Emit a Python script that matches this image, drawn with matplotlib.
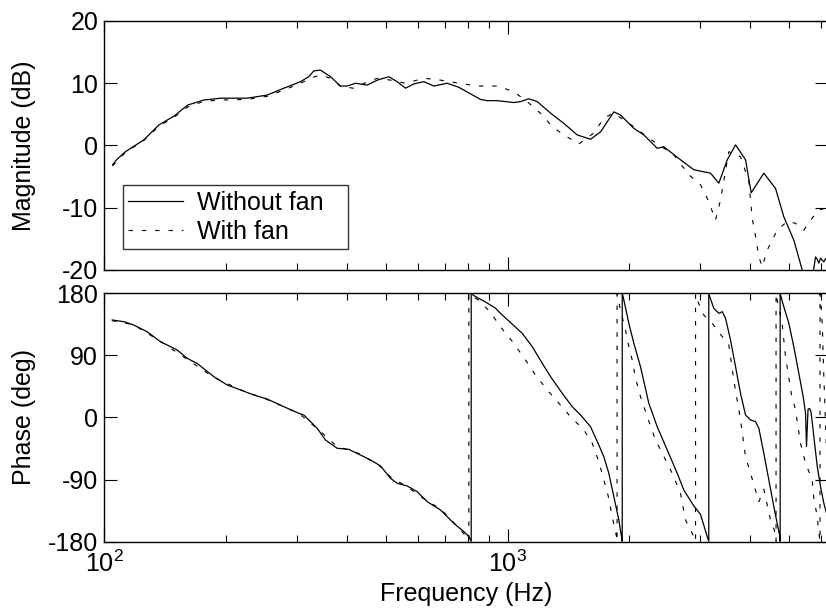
import numpy as np
import matplotlib.pyplot as plt
from matplotlib.ticker import NullFormatter, FixedLocator

plt.rcParams['font.family'] = ['Liberation Sans', 'DejaVu Sans']
plt.rcParams['axes.unicode_minus'] = False

# 幅值 (dB)
f_mag_nofan = [104.7, 107.5, 112.7, 125.2, 136.4, 148.6, 160.9, 176.4, 194.1, 226, 253.3, 278.6,
               306.4, 321.4, 330.7, 343.6, 363.8, 385.2, 400.2, 419.7, 448.6, 475.2, 507.6, 532.5,
               558.4, 585.5, 620, 656.4, 708.6, 757.2, 809.3, 857, 890.5, 942.8, 1036.6, 1077,
               1129, 1185, 1279, 1380, 1489, 1607, 1702, 1836, 1907, 2058, 2179, 2352, 2442,
               2687, 2900, 3190, 3345, 3510, 3680, 3896, 4024, 4325, 4624, 4848, 5133, 5386,
               5551, 5715, 5812, 5869, 5922, 5980, 6094, 6150, 6214]
mag_nofan = [-3.1, -2.2, -1.0, 0.9, 3.3, 4.7, 6.5, 7.3, 7.6, 7.6, 8.1, 9.2,
             10.25, 11.05, 12.0, 12.1, 11.05, 9.55, 9.55, 10.0, 9.7, 10.5, 11.05, 10.25,
             9.2, 9.9, 10.25, 9.55, 10.0, 9.35, 8.3, 7.4, 7.2, 7.2, 6.9, 7.05,
             7.5, 7.05, 5.2, 3.55, 1.7, 1.0, 2.2, 5.4, 4.9, 2.75, 1.7, -0.45, -0.2,
             -2.3, -3.9, -4.45, -6.05, -2.3, 0.1, -2.3, -7.6, -4.45, -6.9, -11.45, -15.2, -20,
             -21.5, -21, -17.9, -18.3, -18.9, -18.1, -18.7, -18.2, -18.4]

f_mag_fan = [104.7, 112.7, 125.2, 136.4, 148.6, 160.9, 176.4, 194.1, 226, 253.3, 278.6, 306.4,
             330.7, 343.6, 363.8, 385.2, 415, 448.6, 475.2, 512.6, 558.4, 620, 682, 757.2,
             847, 944, 1036.6, 1121, 1220, 1291, 1380, 1503, 1637, 1734, 1836, 2058, 2263,
             2586, 2818, 3012, 3158, 3281, 3377, 3541, 3786, 3970, 4048, 4125, 4204, 4285,
             4410, 4669, 4943, 5183, 5436, 5648, 5922, 6152]
mag_fan = [-3.3, -1.1, 0.8, 3.1, 4.5, 6.2, 7.1, 7.3, 7.4, 7.9, 8.9, 10.0,
           11.0, 11.3, 10.8, 9.5, 9.2, 10.2, 10.8, 10.5, 10.0, 10.8, 10.5, 10.0,
           9.55, 9.55, 8.65, 7.0, 4.9, 3.0, 1.7, 0.25, 2.0, 4.4, 5.2, 3.0, 1.0,
           -1.5, -4.7, -6.3, -9.0, -12.0, -8.75, -1.0, -1.8, -5.8, -11.7, -14.6, -17.9, -19.5,
           -16.8, -13.6, -12.2, -12.5, -13.6, -12.0, -10.35, -10.1]

# 相位 (deg)
f_ph_nofan = [104.5, 111.7, 118.2, 127.6, 137.7, 151.5, 160.4, 169.9, 186.8, 201.6, 217.6, 234.7,
              253.3, 278.6, 303.4, 312.3, 337.1, 353.3, 377.8, 403.6, 431.5, 457, 484, 512.6,
              532.5, 563.6, 597, 632, 682, 735.8, 779, 801.7, 812.7,
              812.7, 828, 882, 934, 960.7, 1087.6, 1151.7, 1219.7, 1279, 1367.5, 1447.6, 1517.9,
              1607, 1685, 1733.8, 1784, 1836, 1889, 1915, 1926,
              1926, 1936, 2000, 2058, 2138, 2242, 2352, 2491, 2637, 2738, 2900, 3012, 3130, 3158,
              3158, 3249, 3345, 3411, 3475, 3576, 3680, 3786, 3896, 4009, 4125, 4204, 4325,
              4451, 4580, 4686, 4740, 4748,
              4748, 4759, 4848, 4989, 5133, 5282, 5416, 5489, 5519, 5568, 5616, 5664, 5756,
              5869, 5980, 6094, 6189]
ph_nofan = [141, 138.5, 133.7, 124, 109.6, 97.6, 85.6, 78, 59, 47, 39.8, 32.5,
            26.7, 15.6, 6.1, 3.6, -15.6, -32.5, -44.5, -46, -54.2, -61.4, -70, -88,
            -95.1, -99, -107.3, -121.7, -133.7, -153, -165, -172.3, -179,
            179, 175.7, 167, 158, 150.6, 121.7, 102.4, 78.3, 59, 34.9, 15.6, 3.6,
            -13.3, -39.8, -56.7, -80.7, -114.5, -148.2, -170, -179,
            179, 174.7, 136.2, 107.3, 73.4, 20.5, -13.3, -47, -80.7, -104.8, -128, -140, -172.3, -179,
            179, 157.9, 150.6, 153, 143.4, 112, 73.4, 34.9, 3.6, -3.6, -6, -15.6, -51.8,
            -90.4, -128.9, -157.9, -172.3, -179,
            179, 177, 160.2, 136.2, 102.4, 63.9, 30, 6, -42, 12, 13, 8, -27.7,
            -71, -100, -124, -138.5]

f_ph_fan = [104.5, 118.2, 137.7, 160.4, 186.8, 217.6, 253.3, 303.4, 337.1, 377.8, 403.6, 431.5,
            484, 512.6, 563.6, 632, 682, 735.8, 779, 801.7,
            801.7, 805, 847, 907.6, 960.7, 1036.6, 1108, 1173, 1254.5, 1341, 1433, 1547, 1622,
            1685, 1733.8, 1784, 1819, 1864.5, 1870,
            1870, 1875, 1907, 1963, 1982, 2039, 2078, 2138, 2222, 2329, 2421, 2563, 2687,
            2765, 2900, 2928,
            2928, 2944, 3069, 3220, 3377, 3541, 3643, 3786, 3896, 4009, 4204, 4325, 4494, 4624, 4638,
            4638, 4677, 4802, 4896, 5058, 5183, 5333, 5489, 5703, 5756, 5869, 5922, 5962,
            5962, 6014, 6048, 6083, 6118, 6152, 6189, 6260]
ph_fan = [140, 134, 110, 84, 58, 40, 26, 6, -16, -42, -47, -53,
          -71, -86, -100, -121, -132, -152, -168, -178,
          179, 177, 170, 152, 131, 107.3, 83.1, 61.4, 39.8, 20.5, 1.2, -18, -37,
          -64, -90.4, -116.8, -143.4, -172.3, -179,
          179, 176, 155, 127, 112, 83.1, 56.6, 30, 1.2, -32.5, -51.8, -80.7, -109.6,
          -148.2, -172.3, -179,
          179, 172, 148.2, 136.2, 120, 104.8, 54.2, -3.6, -56.7, -80.7, -121.7, -103.8, -148.2, -167.5, -179,
          179, 167.5, 136.2, 88, 35, 11, -37.3, -66, -90.4, -116.8, -143.4, -167.5, -179,
          179, 155, 124, 72, 32, -8, -51, -100]

fig = plt.figure(figsize=(8.26, 6.14), dpi=100)
ax1 = fig.add_axes([0.1265, 0.5603, 0.8759, 0.4055])
ax2 = fig.add_axes([0.1265, 0.1173, 0.8759, 0.4055])

dash = (0, (4, 8))
ax1.plot(f_mag_nofan, mag_nofan, color='black', lw=0.9, label='Without fan')
ax1.plot(f_mag_fan, mag_fan, color='black', lw=0.8, linestyle=dash, label='With fan')
ax2.plot(f_ph_nofan, ph_nofan, color='black', lw=0.9)
ax2.plot(f_ph_fan, ph_fan, color='black', lw=0.8, linestyle=dash)

for ax in (ax1, ax2):
    ax.set_xscale('log')
    ax.set_xlim(100, 6240)
    ax.tick_params(which='both', direction='in', top=True, right=True, labelsize=18, width=0.8)
    ax.tick_params(which='major', length=9.5)
    ax.tick_params(which='minor', length=5)
    ax.tick_params(axis='y', pad=4.5)
    ax.tick_params(axis='x', pad=6)
    ax.xaxis.set_minor_formatter(NullFormatter())
    for s in ax.spines.values():
        s.set_linewidth(1.0)

ax1.set_ylim(-20, 20)
ax1.yaxis.set_major_locator(FixedLocator([-20, -10, 0, 10, 20]))
ax1.tick_params(axis='x', which='both', labelbottom=False)
ax1.set_ylabel('Magnitude (dB)', fontsize=18)
ax1.yaxis.set_label_coords(-0.094, 0.5)

ax2.set_ylim(-180, 180)
ax2.yaxis.set_major_locator(FixedLocator([-180, -90, 0, 90, 180]))
ax2.set_ylabel('Phase (deg)', fontsize=18)
ax2.yaxis.set_label_coords(-0.094, 0.5)
ax2.set_xlabel('Frequency (Hz)', fontsize=18, labelpad=4)

leg = ax1.legend(loc='lower left', bbox_to_anchor=(0.025, 0.084, 0.312, 0.2), mode='expand',
                 borderaxespad=0, fontsize=18, frameon=True, fancybox=False, edgecolor='black',
                 handlelength=2.2, handletextpad=0.55, labelspacing=0.2, borderpad=0.22)
leg.get_frame().set_linewidth(1.0)

plt.savefig('out.png', dpi=100)
